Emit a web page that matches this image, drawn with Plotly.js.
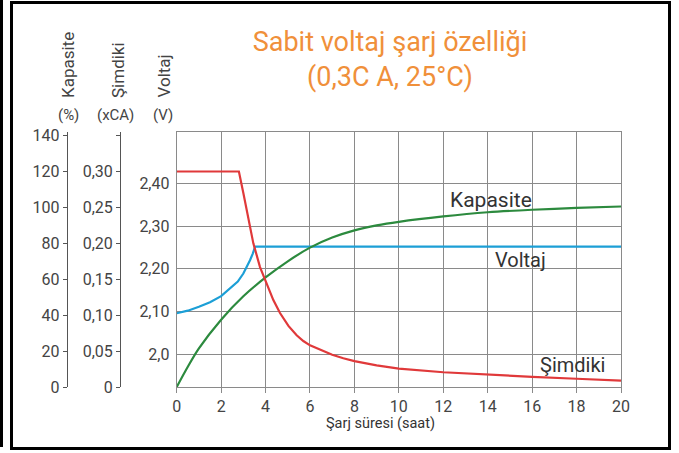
<!DOCTYPE html>
<html>
<head>
<meta charset="utf-8">
<script src="https://cdn.plot.ly/plotly-3.0.1.min.js"></script>
<style>
  html, body { margin: 0; padding: 0; background: #fff; }
  #wrap { position: relative; width: 679px; height: 453px; overflow: hidden; }
  #chart { position: absolute; left: 0; top: 0; width: 679px; height: 453px; }
  .frame { position: absolute; pointer-events: none; box-sizing: border-box; }
</style>
</head>
<body>
<div id="wrap">
  <div id="chart"></div>
  <div class="frame" style="left:10px; top:1px; width:661px; height:449px; border:3.5px solid #000;"></div>
  <div class="frame" style="left:0px; top:0px; width:3px; height:447px; background:#000;"></div>
</div>
<script>
// ---- data ----
const titleText = 'Sabit voltaj şarj özelliği<br>(0,3C A, 25°C)';
const xTitle = 'Şarj süresi (saat)';

const xTicks = [0, 2, 4, 6, 8, 10, 12, 14, 16, 18, 20];

const voltTickVals = [2.0, 2.1, 2.2, 2.3, 2.4];
const voltTickText = ['2,0', '2,10', '2,20', '2,30', '2,40'];

const capTickVals = [0, 20, 40, 60, 80, 100, 120, 140];
const capTickText = ['0', '20', '40', '60', '80', '100', '120', '140'];

const curTickVals = [0, 0.05, 0.10, 0.15, 0.20, 0.25, 0.30, 0.35];
const curTickText = ['0', '0,05', '0,10', '0,15', '0,20', '0,25', '0,30', ''];

// Current (xCA)
const curHours = [0, 2.8, 3.0, 3.23, 3.45, 3.75, 4.0, 4.35, 4.65, 5.03, 5.4, 5.7, 6.0, 6.5, 7.0, 7.5, 8, 9, 10, 12, 14, 16, 18, 20];
const curVals  = [0.30, 0.30, 0.270, 0.232, 0.200, 0.167, 0.147, 0.121, 0.103, 0.085, 0.072, 0.064, 0.058, 0.051, 0.045, 0.040, 0.036, 0.030, 0.0255, 0.0205, 0.017, 0.0142, 0.0115, 0.0088];

// Voltage (V)
const voltHours = [0, 0.5, 1, 1.5, 2, 2.4, 2.75, 3.0, 3.15, 3.3, 3.42, 3.53, 20];
const voltVals  = [2.096, 2.102, 2.111, 2.122, 2.136, 2.154, 2.170, 2.189, 2.203, 2.220, 2.235, 2.252, 2.252];

// Capacity (%)
const capHours = [0, 0.5, 1, 2, 3, 4, 5, 6, 7, 8, 9, 10, 12, 14, 16, 18, 20];
const capVals  = [0, 11.3, 21.5, 37.5, 50.5, 61.0, 70.0, 77.6, 83.2, 87.2, 90.0, 92.0, 95.0, 97.3, 98.7, 99.7, 100.5];

// ---- chart ----
const FONT = 'Roboto, "Open Sans", sans-serif';
const TICKC = '#444';
const GRID = '#8a8a8a';

const traces = [
  { x: voltHours, y: voltVals, yaxis: 'y', mode: 'lines', line: { color: '#1c9fd6', width: 2.2 }, hoverinfo: 'skip' },
  { x: capHours, y: capVals, yaxis: 'y2', mode: 'lines', line: { color: '#2c8a3e', width: 2.2, shape: 'spline', smoothing: 0.8 }, hoverinfo: 'skip' },
  { x: curHours, y: curVals, yaxis: 'y3', mode: 'lines', line: { color: '#e0393a', width: 2.2 }, hoverinfo: 'skip' }
];

const L = 30, R = 58, T = 132, B = 66;
const W = 679 - L - R;
const H = 453 - T - B;
const px = v => (v - L) / W;          // pixel x -> paper x
const py = v => (453 - B - v) / H;    // pixel y -> paper y

const layout = {
  width: 679, height: 453,
  margin: { l: L, r: R, t: T, b: B, pad: 0 },
  paper_bgcolor: '#fff', plot_bgcolor: '#fff',
  showlegend: false,
  font: { family: FONT, size: 16, color: TICKC },
  title: {
    text: titleText, x: 390 / 679, xanchor: 'center', y: 1 - 51 / 453, yanchor: 'middle',
    font: { family: FONT, size: 27, color: '#f0903a' }
  },
  xaxis: {
    domain: [px(176.7), 1], range: [0, 20], tickvals: xTicks, ticktext: xTicks.map(String),
    showgrid: true, gridcolor: GRID, gridwidth: 1, zeroline: false,
    showline: true, linecolor: GRID, linewidth: 1, mirror: true,
    ticks: 'outside', ticklen: 5, tickcolor: GRID,
    tickfont: { family: FONT, size: 16, color: TICKC }
  },
  yaxis: {
    range: [1.9235, 2.52], tickvals: voltTickVals, ticktext: voltTickText,
    showgrid: true, gridcolor: GRID, gridwidth: 1, zeroline: false,
    showline: true, linecolor: GRID, linewidth: 1, mirror: true,
    ticks: '', ticklabelstandoff: 3,
    tickfont: { family: FONT, size: 16, color: TICKC }
  },
  yaxis2: {
    overlaying: 'y', anchor: 'free', position: px(66.7), side: 'left',
    range: [0, 142], tickvals: capTickVals, ticktext: capTickText,
    showgrid: false, zeroline: false, showline: true, linecolor: '#555', linewidth: 1,
    ticks: 'outside', ticklen: 4, tickcolor: '#555',
    tickfont: { family: FONT, size: 16, color: TICKC }
  },
  yaxis3: {
    overlaying: 'y', anchor: 'free', position: px(120), side: 'left',
    range: [0, 0.355], tickvals: curTickVals, ticktext: curTickText,
    showgrid: false, zeroline: false, showline: true, linecolor: '#555', linewidth: 1,
    ticks: 'outside', ticklen: 4, tickcolor: '#555',
    tickfont: { family: FONT, size: 16, color: TICKC }
  },
  annotations: [
    { text: 'Kapasite', xref: 'paper', yref: 'paper', x: px(68), y: py(100), xanchor: 'center', yanchor: 'bottom', textangle: -90, showarrow: false, font: { family: FONT, size: 17, color: TICKC } },
    { text: 'Şimdiki', xref: 'paper', yref: 'paper', x: px(118), y: py(100), xanchor: 'center', yanchor: 'bottom', textangle: -90, showarrow: false, font: { family: FONT, size: 17, color: TICKC } },
    { text: 'Voltaj', xref: 'paper', yref: 'paper', x: px(163), y: py(100), xanchor: 'center', yanchor: 'bottom', textangle: -90, showarrow: false, font: { family: FONT, size: 17, color: TICKC } },
    { text: '(%)', xref: 'paper', yref: 'paper', x: px(68), y: py(115), xanchor: 'center', yanchor: 'middle', showarrow: false, font: { family: FONT, size: 15, color: TICKC } },
    { text: '(xCA)', xref: 'paper', yref: 'paper', x: px(115), y: py(115), xanchor: 'center', yanchor: 'middle', showarrow: false, font: { family: FONT, size: 15, color: TICKC } },
    { text: '(V)', xref: 'paper', yref: 'paper', x: px(163), y: py(115), xanchor: 'center', yanchor: 'middle', showarrow: false, font: { family: FONT, size: 15, color: TICKC } },
    { text: xTitle, xref: 'paper', yref: 'paper', x: px(380), y: py(423), xanchor: 'center', yanchor: 'middle', showarrow: false, font: { family: FONT, size: 14.5, color: '#333' } },
    { text: 'Kapasite', xref: 'x', yref: 'y', x: 14.16, y: 2.361, xanchor: 'center', yanchor: 'middle', showarrow: false, font: { family: FONT, size: 21, color: '#333' } },
    { text: 'Voltaj', xref: 'x', yref: 'y', x: 15.47, y: 2.221, xanchor: 'center', yanchor: 'middle', showarrow: false, font: { family: FONT, size: 20, color: '#333' } },
    { text: 'Şimdiki', xref: 'x', yref: 'y', x: 17.8, y: 1.975, xanchor: 'center', yanchor: 'middle', showarrow: false, font: { family: FONT, size: 20, color: '#333' } }
  ]
};

Plotly.newPlot('chart', traces, layout, { staticPlot: true, displayModeBar: false });
</script>
</body>
</html>
